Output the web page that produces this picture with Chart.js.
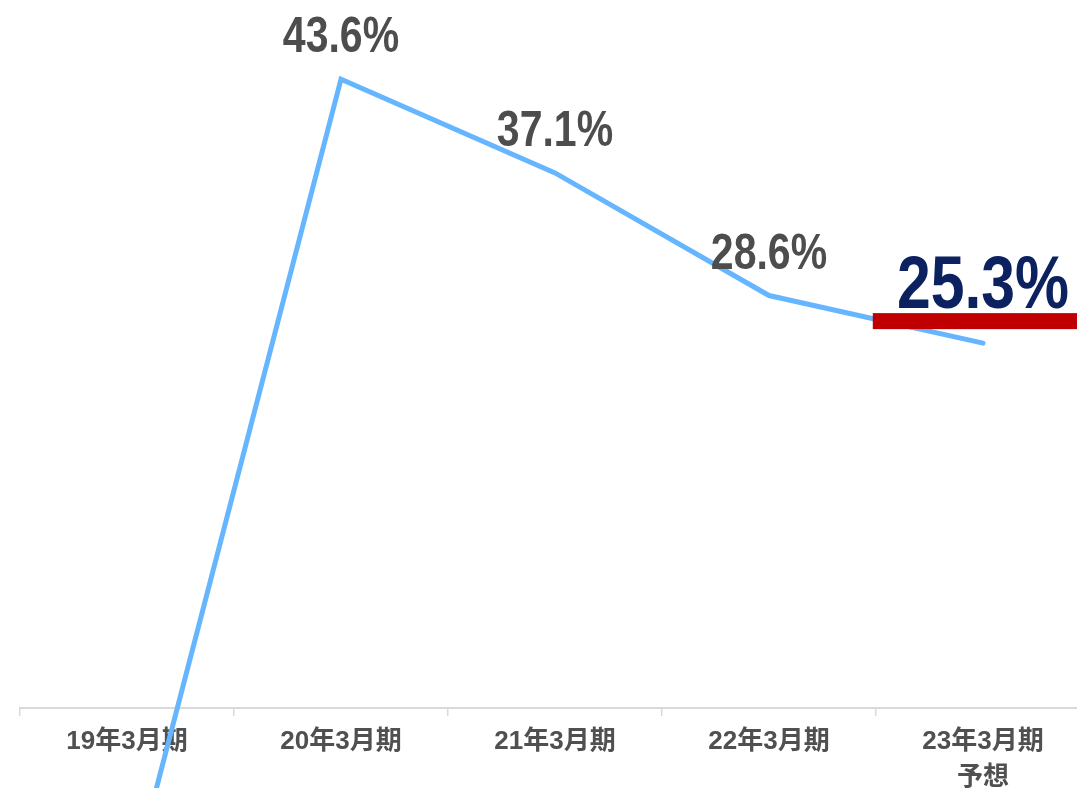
<!DOCTYPE html>
<html lang="ja">
<head>
<meta charset="utf-8">
<script src="https://cdn.jsdelivr.net/npm/chart.js@4"></script>
<style>
  html, body { margin: 0; padding: 0; background: #fff; }
  #frame { width: 1077px; height: 788px; overflow: hidden; position: relative; }
  #wrap { width: 1100px; height: 788px; position: relative; }
</style>
</head>
<body>
<div id="frame"><div id="wrap"><canvas id="ratio"></canvas></div></div>
<script>
"use strict";

const periods = ["19年3月期", "20年3月期", "21年3月期", "22年3月期", ["23年3月期", "予想"]];
const ratios = [-13.4, 43.6, 37.1, 28.6, 25.3];
const forecastIndex = 4;

// percentage labels above points, last one bigger with a red bar under it
const pointLabels = {
  id: "pointLabels",
  afterDatasetsDraw(chart) {
    const ctx = chart.ctx;
    const meta = chart.getDatasetMeta(0);
    const xScale = chart.scales.x;
    const step = xScale.getPixelForValue(1) - xScale.getPixelForValue(0);
    meta.data.forEach((pt, i) => {
      const big = i === forecastIndex;
      const size = big ? 74 : 50;
      ctx.save();
      if (big) {
        ctx.fillStyle = "#c00000";
        ctx.fillRect(pt.x - step * 0.515, pt.y - 30, step, 16);
      }
      ctx.translate(pt.x, pt.y - (big ? 35 : 27));
      ctx.scale(0.82, 1);
      ctx.font = "bold " + size + "px 'Liberation Sans', Arial, sans-serif";
      ctx.fillStyle = big ? "#0c2160" : "#4d4d4d";
      ctx.textAlign = "center";
      ctx.textBaseline = "alphabetic";
      ctx.fillText(ratios[i].toFixed(1) + "%", 0, 0);
      ctx.restore();
    });
  },
};

new Chart(document.getElementById("ratio"), {
  type: "line",
  data: {
    labels: periods,
    datasets: [
      {
        data: ratios,
        borderColor: "#66b5ff",
        borderWidth: 5,
        borderCapStyle: "round",
        borderJoinStyle: "miter",
        pointRadius: 0,
        tension: 0,
        clip: false,
      },
    ],
  },
  options: {
    animation: false,
    responsive: true,
    maintainAspectRatio: false,
    layout: {
      padding: { left: 20, right: 10, top: 59, bottom: 0 },
    },
    plugins: {
      legend: { display: false },
      tooltip: { enabled: false },
    },
    scales: {
      x: {
        offset: true,
        afterFit: (scale) => {
          scale.height = 80;
        },
        grid: {
          offset: true,
          drawOnChartArea: false,
          drawTicks: true,
          tickLength: 8,
          color: "#d9d9d9",
          lineWidth: 1.5,
        },
        border: {
          color: "#d9d9d9",
          width: 2,
        },
        ticks: {
          autoSkip: false,
          maxRotation: 0,
          padding: 8,
          color: "#505050",
          font: {
            family: "'Liberation Sans', 'Noto Sans CJK JP', sans-serif",
            size: 26,
            weight: "bold",
            lineHeight: 1.38,
          },
        },
      },
      y: {
        display: false,
        min: 0,
        max: 45,
      },
    },
  },
  plugins: [pointLabels],
});
</script>
</body>
</html>
